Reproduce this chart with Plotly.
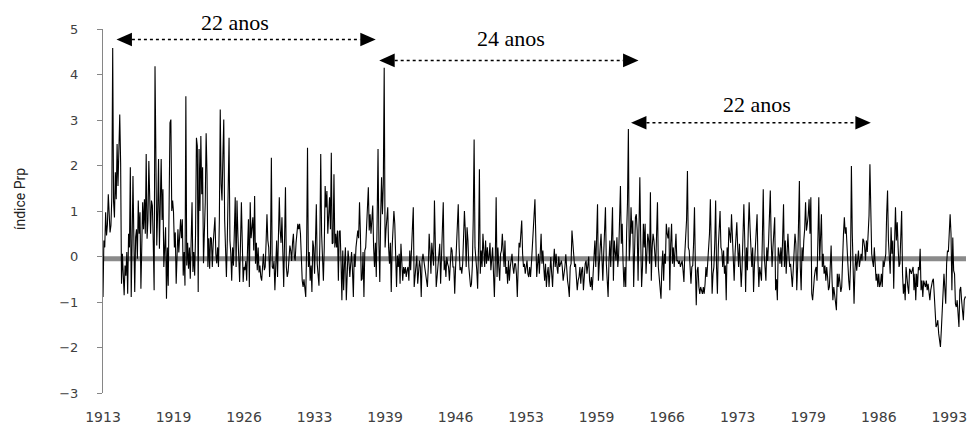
import plotly.graph_objects as go

# Monthly Prp index values, Jan 1913 onwards
prp_1913_1922 = [
    -0.89, 0.35, 0.2, 0.97, 0.46, 0.7, 1.37, 0.8, 0.53, 0.68, 1.3, 4.58,
    1.2, 0.86, 1.85, 1.26, 2.47, 1.55, 2.4, 3.12, 2.06, -0.6, 0.06, -0.3,
    -0.85, -0.2, -0.42, 0.1, -0.82, 0.5, 0.2, 1.96, -0.89, 0.3, 1.77, 0.4,
    -0.78, 0.42, 0.6, -0.05, 1.23, 0.5, 0.97, -0.71, 0.2, 1.19, 0.6, 1.26,
    0.5, 2.25, 0.39, 0.8, 2.1, 0.97, 0.5, 1.23, 1.12, 0.3, -0.74, 4.18,
    0.8, 0.24, 1.0, 2.14, 0.17, 0.9, 2.14, 0.8, 1.48, -0.23, 0.3, 0.64,
    -0.93, 0.2, -0.64, 1.5, 2.94, 3.01, 1.0, 1.23, 0.97, 0.2, 0.53, -0.6,
    0.1, 0.6, 0.09, 0.5, 0.82, 0.4, 0.82, -0.42, 0.1, -0.64, 3.52, -0.2,
    0.3, -0.27, 0.2, -0.49, 0.4, 1.19, -0.34, 0.1, -0.42, 0.5, 2.61, 2.43,
    -0.78, 2.36, 1.0, 2.65, 1.37, 1.96, -0.15, 0.5, 1.2, 2.71, 1.81, -0.23,
]
prp_1923_1932 = [
    0.4, -0.27, 0.42, 0.39, -0.23, 0.28, 0.5, 0.86, 0.06, -0.15, 0.2, -0.23,
    0.8, 3.23, 1.6, 1.23, 2.2, 3.01, 0.8, 0.3, -0.45, 0.35, 1.5, 2.61,
    0.35, 0.06, -0.53, 0.2, -0.2, 0.6, 1.3, -0.23, 1.23, 0.5, -0.23, -0.56,
    0.3, 1.19, 0.31, -0.56, -0.23, -0.3, -0.1, -0.53, 0.2, 0.82, -0.67, 1.19,
    0.4, 0.79, 0.86, 0.13, 1.33, -0.16, 0.3, -0.3, 0.2, -0.35, -0.2, -0.45,
    -0.53, -0.23, 0.06, -0.3, -0.23, 0.3, 0.93, 0.35, 0.2, -0.45, 0.1, 2.17,
    -0.23, -0.27, -0.1, -0.74, 0.13, 0.35, -0.45, 0.2, 1.3, 0.57, 0.3, 0.86,
    0.2, -0.67, 0.4, 1.52, -0.23, -0.45, -0.34, -0.1, 0.24, 0.13, -0.1, 0.3,
    0.5, 0.0, -0.09, 0.3, 0.5, 0.72, 0.6, 0.72, 0.5, -0.3, -0.53, -0.67,
    -0.5, -0.7, -0.89, 0.2, 2.39, -0.23, 0.1, -0.53, -0.2, -0.78, 0.35, 0.2,
]
prp_1933_1942 = [
    -0.38, 0.3, 1.15, -0.16, -0.53, -0.64, 0.3, 2.25, 0.5, -0.38, -0.53, 0.2,
    1.55, 1.08, 1.44, 0.5, 0.9, 1.3, 0.6, 2.28, 0.28, 0.3, 1.81, 0.2,
    0.5, 0.2, 0.57, -0.53, 0.55, 0.57, -0.1, -0.96, 0.13, -0.74, -0.16, 0.2,
    -0.96, -0.23, 0.13, -0.1, -0.45, -0.16, 0.1, -0.3, -0.89, 0.06, -0.23, 0.2,
    0.35, 0.57, 0.4, 1.19, 0.5, -0.53, -0.49, 0.1, -0.89, 0.13, 0.2, 0.6,
    0.9, 1.52, 0.57, 0.93, 0.5, 0.79, 1.12, 0.2, -0.23, 0.3, -0.45, 0.8,
    2.36, 0.28, -0.56, 0.9, 1.74, 0.93, 1.6, 4.15, 0.2, 0.57, 0.8, 1.08,
    0.2, -0.16, 0.3, -0.78, 0.2, 0.6, 1.0, 0.72, -0.23, -0.67, 0.02, -0.23,
    0.06, -0.6, 0.28, -0.01, -0.53, -0.23, -0.38, -0.23, -0.45, -0.3, -0.23, -0.53,
    0.13, -0.3, 0.3, 0.6, 1.08, -0.67, -0.45, -0.23, 0.02, -0.6, -0.23, -0.09,
]
prp_1943_1952 = [
    -0.23, -0.89, -0.09, 0.06, -0.09, -0.23, -0.38, -0.53, -0.67, -0.23, 0.5, 0.13,
    -0.38, 0.3, 0.1, -0.2, 1.23, 0.2, -0.67, -0.45, -0.16, 0.2, 0.28, -0.6,
    0.1, 0.4, 1.19, -0.3, -0.09, -0.45, -0.01, -0.16, -0.23, -0.53, -0.09, 0.2,
    0.13, -0.23, -0.23, -0.82, -0.23, 0.3, 0.6, 1.15, 0.2, -0.3, -0.23, -0.38,
    -0.16, 0.3, 1.0, 0.57, -0.23, 0.64, 0.35, -0.23, -0.53, -0.67, -0.6, -0.2,
    0.8, 2.57, 0.2, -0.23, -0.3, -0.71, 0.2, 1.92, -0.38, 0.13, -0.23, 0.5,
    0.2, -0.23, 0.35, -0.16, 0.2, -0.09, -0.01, 0.3, -0.3, 0.1, 0.2, -0.38,
    -0.89, -0.09, 1.3, -0.45, 0.2, -0.23, -0.53, 0.06, 0.13, 0.5, 0.13, -0.23,
    0.35, -0.38, -0.23, -0.6, -0.09, -0.53, -0.23, -0.09, 0.06, -0.23, -0.38, -0.16,
    -0.16, -0.38, -0.89, -0.23, 0.3, 0.2, 0.5, 0.79, 0.06, -0.23, -0.16, -0.38,
]
prp_1953_1962 = [
    -0.23, -0.09, -0.38, -0.45, -0.23, -0.45, -0.16, 0.13, 0.5, 0.9, 1.26, -0.16,
    -0.45, -0.16, 0.06, -0.38, 0.2, 0.5, -0.16, 0.13, -0.23, -0.53, -0.16, -0.67,
    -0.38, -0.23, -0.67, -0.3, -0.01, -0.38, -0.67, -0.16, 0.17, -0.23, 0.06, -0.23,
    -0.38, 0.0, -0.23, -0.16, -0.09, -0.23, -0.53, -0.38, -0.23, 0.05, -0.3, -0.53,
    -0.67, -0.89, -0.23, -0.16, 0.57, 0.2, -0.09, -0.23, -0.16, -0.38, -0.74, -0.53,
    -0.45, -0.23, -0.6, -0.3, -0.23, -0.74, -0.38, -0.16, -0.09, -0.38, -0.2, 0.0,
    -0.53, -0.67, -0.45, -0.74, -0.38, -0.1, 0.35, -0.23, 0.79, 1.15, -0.53, 0.06,
    0.2, 0.5, -0.23, -0.53, 0.06, 0.6, 1.08, -0.16, -0.45, -0.89, -0.09, 0.35,
    -0.23, 0.5, 1.08, -0.53, 0.35, 0.1, -0.09, 0.42, -0.23, 0.06, 0.8, 1.55,
    0.28, 0.72, -0.16, -0.67, -0.23, -0.67, 0.5, 1.2, 2.8, -0.09, 0.28, 1.08,
]
prp_1963_1972 = [
    0.5, 0.79, -0.67, 0.3, 0.86, 0.93, 0.57, -0.53, 0.4, 1.74, 0.35, -0.67,
    -0.23, 0.72, 0.2, 0.72, -0.38, 0.1, 0.5, 0.35, -0.16, 1.41, -0.53, 0.2,
    0.5, 0.35, 0.1, -0.23, 0.5, 1.19, -0.23, -0.53, -0.6, -0.93, -0.23, 0.13,
    -0.53, 0.06, -0.16, 0.72, 0.5, 0.4, 0.64, -0.74, 0.28, 0.72, -0.16, 0.2,
    -0.23, 0.1, 0.5, -0.09, -0.09, -0.16, -0.09, -0.23, -0.16, -0.09, -0.3, -0.56,
    0.06, 0.5, 0.8, 1.88, 0.2, 0.13, -0.16, -0.6, -0.23, -0.2, 0.3, 1.08,
    -0.23, -1.07, -0.31, -0.23, -0.67, -0.82, -0.67, -0.75, -0.82, -0.67, -0.82, -0.6,
    -0.23, -0.45, -0.1, 0.06, 0.5, 1.26, -0.23, -0.82, -0.38, -0.23, 0.3, 1.23,
    -0.23, -0.82, 0.2, 0.79, 1.0, 0.2, 0.13, -0.23, 0.13, -0.38, -0.2, -0.96,
    0.2, -0.16, 0.64, 0.5, 0.3, 0.93, 0.35, 0.1, -0.53, 0.06, 0.5, 0.75,
]
prp_1973_1982 = [
    0.2, -0.23, 0.28, -0.3, -0.67, -0.23, 0.5, 1.15, 0.35, -0.78, 0.2, -0.3,
    0.6, 1.19, 0.64, 0.13, -0.23, 0.2, -0.78, -0.2, 0.2, 0.5, 0.93, -0.09,
    -0.67, -0.23, -0.4, -0.53, 0.4, 1.48, 0.06, -0.3, -0.53, 0.2, -0.1, 0.3,
    0.8, 1.45, 0.35, -0.23, 0.2, 0.64, 0.86, -0.74, -0.5, -0.96, 0.2, 0.06,
    -0.16, 0.2, -0.23, 0.4, 1.15, -0.23, 0.35, -0.38, 0.1, 0.5, 0.06, -0.23,
    -0.16, -0.38, -0.67, -0.3, 0.2, 0.5, 0.28, -0.74, -0.23, 0.5, 1.66, -0.23,
    -0.74, 0.2, -0.1, 0.35, 0.6, 1.19, 0.57, 0.72, 0.9, 1.26, 0.5, 1.3,
    -0.82, -0.96, -0.53, -0.45, -0.3, -0.23, -0.53, 0.4, 1.3, -0.09, 0.5, 0.93,
    -0.23, 0.06, -0.38, -0.2, -0.53, -0.23, -0.45, -0.74, -0.67, -0.01, 0.24, -0.5,
    -0.96, -0.67, -0.89, -1.04, -1.18, -0.38, -0.67, -0.38, -0.6, -0.78, -0.67, 0.2,
]
prp_1983_1994 = [
    0.5, 0.86, 0.5, 0.64, 0.35, -0.16, -0.53, -0.74, -0.2, 1.99, 0.5, -0.3,
    -1.04, -0.31, 0.06, -0.31, -0.09, 0.13, -0.23, -0.1, 0.06, -0.09, 0.39, 0.35,
    0.2, -0.09, 0.35, 0.1, 0.5, 0.9, 2.03, 0.64, 0.06, -0.1, -0.23, 0.2,
    -0.16, -0.53, -0.38, -0.67, -0.38, -0.67, -0.6, -0.38, -0.67, -0.09, -0.23, -0.1,
    0.06, 0.93, 1.45, 0.35, -0.1, -0.38, 0.64, 0.06, 0.35, -0.71, 0.3, 1.08,
    0.35, 0.75, 0.2, -0.23, -0.16, 0.3, 1.0, -0.38, -0.82, -0.6, -0.96, -0.23,
    -0.53, -0.67, -0.82, -0.27, -0.31, -0.38, -0.3, -0.23, -0.74, -0.38, -0.96, -0.38,
    -0.67, -0.23, -0.3, 0.17, -0.74, -0.53, -0.89, -0.53, -0.6, -0.67, -0.53, -0.74,
    -0.6, -0.89, -0.96, -0.74, -0.6, -0.53, -0.49, -0.96, -1.11, -1.55, -1.5, -1.4,
    -1.69, -1.85, -1.99, -1.62, -1.11, -0.74, -0.38, -0.7, -1.04, -0.16, 0.13, 0.1,
    0.5, 0.93, 0.5, -0.74, 0.42, -0.31, -0.38, -1.04, -1.11, -0.96, -1.26, -1.55,
    -0.74, -0.67, -0.96, -1.2, -1.4, -0.96, -0.89, -0.89,
]

REFERENCE_LEVEL = -0.05   # thick grey horizontal line

TICK_LABELS = ["1913", "1919", "1926", "1933", "1939", "1946", "1953",
               "1959", "1966", "1973", "1979", "1986", "1993"]
TICK_STEP = 80  # months between labels

# Period annotations: arrow start / end (month index), arrow level, label
PERIOD_LABELS = ["22 anos", "24 anos", "22 anos"]
PERIOD_START = [15.3, 313.4, 599.0]
PERIOD_END = [309.4, 607.5, 871.0]
PERIOD_Y = [4.77, 4.31, 2.94]
LABEL_X = [150.2, 462.9, 741.8]
LABEL_Y_PAPER = [1.019, 0.973, 0.792]

values = (prp_1913_1922 + prp_1923_1932 + prp_1933_1942 + prp_1943_1952 +
          prp_1953_1962 + prp_1963_1972 + prp_1973_1982 + prp_1983_1994)
n = len(values)
months = list(range(n))

fig = go.Figure()
fig.add_trace(go.Scatter(x=months, y=values, mode="lines",
                         line=dict(color="black", width=1.1),
                         hoverinfo="skip", showlegend=False))

shapes = [dict(type="line", xref="x", yref="y", x0=0, x1=n - 1,
               y0=REFERENCE_LEVEL, y1=REFERENCE_LEVEL,
               line=dict(color="#8a8a8a", width=5), layer="below")]

head_len = 17.5   # in months (~15 px)
head_half = 0.15  # in index units (~7 px)
for x0, x1, y in zip(PERIOD_START, PERIOD_END, PERIOD_Y):
    shapes.append(dict(type="line", xref="x", yref="y",
                       x0=x0 + head_len, x1=x1 - head_len, y0=y, y1=y,
                       line=dict(color="black", width=1.5, dash="dot")))
    shapes.append(dict(type="path", xref="x", yref="y",
                       path=f"M {x0} {y} L {x0 + head_len} {y + head_half} L {x0 + head_len} {y - head_half} Z",
                       fillcolor="black", line=dict(color="black", width=0)))
    shapes.append(dict(type="path", xref="x", yref="y",
                       path=f"M {x1} {y} L {x1 - head_len} {y + head_half} L {x1 - head_len} {y - head_half} Z",
                       fillcolor="black", line=dict(color="black", width=0)))

annotations = []
for txt, lx, ly in zip(PERIOD_LABELS, LABEL_X, LABEL_Y_PAPER):
    annotations.append(dict(x=lx, y=ly, xref="x", yref="paper", text=txt,
                            showarrow=False, xanchor="center", yanchor="middle",
                            font=dict(family="Liberation Serif, Times New Roman, serif",
                                      size=22, color="black")))

annotations.append(dict(x=0, y=0.533, xref="paper", yref="paper",
                        xshift=-83, text="índice Prp", textangle=-90,
                        showarrow=False, xanchor="center", yanchor="middle",
                        font=dict(family="Roboto, Arial, sans-serif", size=14,
                                  color="#222222")))

fig.update_layout(
    width=971, height=429,
    margin=dict(l=103, r=4, t=29, b=34),
    paper_bgcolor="white", plot_bgcolor="white",
    shapes=shapes, annotations=annotations,
    showlegend=False,
)
fig.update_xaxes(
    range=[0, n - 1], showgrid=False, zeroline=False, showline=False,
    tickmode="array",
    tickvals=[i * TICK_STEP for i in range(len(TICK_LABELS))],
    ticktext=TICK_LABELS,
    ticks="outside", ticklen=11, tickcolor="rgba(0,0,0,0)",
    tickfont=dict(family="DejaVu Sans, Verdana, sans-serif", size=14, color="#404040"),
)
fig.update_yaxes(
    range=[-3, 5], dtick=1, tick0=0, showgrid=False, zeroline=False,
    showline=True, linecolor="#868686", linewidth=1,
    ticks="outside", ticklen=5, tickcolor="#868686",
    ticklabelstandoff=16,
    tickfont=dict(family="DejaVu Sans, Verdana, sans-serif", size=13, color="#404040"),
)

# Remove the default 8 px page margin so the 971x429 figure fills the window.
fig.write_html("out.html",
               config={"displayModeBar": False},
               post_script="document.body.style.margin='0';document.body.style.overflow='hidden';")
